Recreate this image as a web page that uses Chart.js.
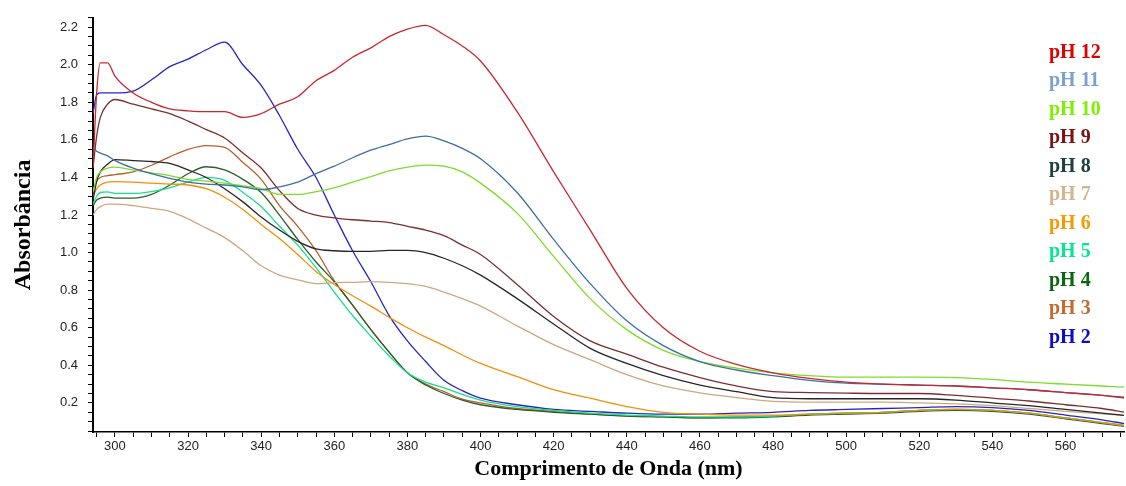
<!DOCTYPE html>
<html>
<head>
<meta charset="utf-8">
<script src="https://cdn.jsdelivr.net/npm/chart.js@4"></script>
<style>
  html, body { margin: 0; padding: 0; background: #fff; }
  #wrap { width: 1126px; height: 486px; }
</style>
</head>
<body>
<div id="wrap"><canvas id="spectra"></canvas></div>
<script>
const wavelengths = [294, 295, 296, 298, 300, 305, 310, 315, 320, 325, 330, 335, 340, 345, 350, 355, 360, 365, 370, 375, 380, 385, 390, 395, 400, 410, 420, 430, 440, 450, 460, 470, 480, 490, 500, 510, 520, 530, 540, 550, 560, 570, 576];

const ph12 = [1.45, 1.85, 2.01, 2.01, 1.94, 1.85, 1.80, 1.765, 1.755, 1.75, 1.75, 1.72, 1.74, 1.79, 1.83, 1.915, 1.97, 2.04, 2.09, 2.15, 2.19, 2.21, 2.16, 2.10, 2.02, 1.75, 1.43, 1.12, 0.81, 0.60, 0.475, 0.405, 0.36, 0.33, 0.31, 0.30, 0.295, 0.29, 0.28, 0.27, 0.255, 0.24, 0.23];
const ph11 = [1.56, 1.54, 1.53, 1.515, 1.49, 1.45, 1.42, 1.395, 1.375, 1.365, 1.36, 1.35, 1.335, 1.35, 1.375, 1.42, 1.46, 1.505, 1.545, 1.575, 1.605, 1.62, 1.595, 1.555, 1.50, 1.32, 1.07, 0.835, 0.637, 0.505, 0.42, 0.375, 0.345, 0.32, 0.305, 0.30, 0.295, 0.29, 0.28, 0.27, 0.255, 0.24, 0.225];
const ph10 = [1.32, 1.40, 1.43, 1.45, 1.455, 1.44, 1.425, 1.41, 1.39, 1.38, 1.37, 1.355, 1.34, 1.31, 1.31, 1.325, 1.345, 1.375, 1.405, 1.435, 1.455, 1.466, 1.46, 1.43, 1.37, 1.21, 0.98, 0.755, 0.59, 0.48, 0.42, 0.385, 0.36, 0.345, 0.337, 0.337, 0.337, 0.335, 0.325, 0.31, 0.30, 0.29, 0.284];
const ph9 = [1.45, 1.62, 1.72, 1.79, 1.815, 1.79, 1.765, 1.74, 1.70, 1.655, 1.61, 1.53, 1.45, 1.33, 1.235, 1.20, 1.185, 1.175, 1.168, 1.16, 1.14, 1.12, 1.09, 1.04, 0.99, 0.83, 0.66, 0.53, 0.46, 0.39, 0.335, 0.29, 0.26, 0.255, 0.252, 0.25, 0.25, 0.24, 0.225, 0.21, 0.19, 0.17, 0.151];
const ph8 = [1.28, 1.38, 1.43, 1.47, 1.495, 1.49, 1.485, 1.475, 1.44, 1.40, 1.34, 1.27, 1.19, 1.12, 1.06, 1.02, 1.01, 1.007, 1.007, 1.012, 1.012, 1.0, 0.97, 0.93, 0.88, 0.755, 0.62, 0.49, 0.41, 0.345, 0.295, 0.26, 0.228, 0.222, 0.222, 0.222, 0.222, 0.215, 0.20, 0.185, 0.165, 0.145, 0.134];
const ph7 = [1.20, 1.23, 1.245, 1.258, 1.258, 1.25, 1.235, 1.22, 1.18, 1.13, 1.08, 1.01, 0.93, 0.88, 0.855, 0.835, 0.84, 0.842, 0.845, 0.842, 0.835, 0.82, 0.79, 0.755, 0.715, 0.61, 0.51, 0.43, 0.35, 0.29, 0.253, 0.228, 0.208, 0.204, 0.204, 0.204, 0.20, 0.195, 0.185, 0.17, 0.155, 0.142, 0.134];
const ph6 = [1.30, 1.34, 1.36, 1.375, 1.378, 1.375, 1.37, 1.365, 1.36, 1.34, 1.295, 1.23, 1.15, 1.075, 0.99, 0.90, 0.83, 0.77, 0.715, 0.655, 0.60, 0.55, 0.505, 0.455, 0.41, 0.34, 0.27, 0.225, 0.18, 0.15, 0.14, 0.135, 0.135, 0.14, 0.145, 0.15, 0.16, 0.165, 0.16, 0.145, 0.12, 0.095, 0.08];
const ph5 = [1.26, 1.30, 1.32, 1.323, 1.315, 1.315, 1.325, 1.345, 1.375, 1.40, 1.385, 1.32, 1.245, 1.14, 1.04, 0.92, 0.79, 0.665, 0.555, 0.45, 0.36, 0.31, 0.28, 0.245, 0.215, 0.18, 0.16, 0.145, 0.135, 0.13, 0.125, 0.125, 0.13, 0.14, 0.145, 0.15, 0.16, 0.165, 0.16, 0.145, 0.12, 0.095, 0.078];
const ph4 = [1.25, 1.28, 1.29, 1.295, 1.29, 1.29, 1.31, 1.36, 1.42, 1.457, 1.44, 1.39, 1.32, 1.20, 1.07, 0.95, 0.845, 0.72, 0.59, 0.47, 0.36, 0.295, 0.25, 0.215, 0.19, 0.165, 0.15, 0.14, 0.13, 0.125, 0.12, 0.12, 0.125, 0.135, 0.14, 0.145, 0.155, 0.16, 0.155, 0.14, 0.115, 0.09, 0.075];
const ph3 = [1.33, 1.38, 1.40, 1.41, 1.415, 1.43, 1.465, 1.51, 1.55, 1.57, 1.56, 1.48, 1.39, 1.25, 1.14, 1.01, 0.85, 0.72, 0.59, 0.47, 0.36, 0.30, 0.26, 0.22, 0.20, 0.17, 0.155, 0.14, 0.13, 0.125, 0.12, 0.125, 0.13, 0.14, 0.145, 0.15, 0.16, 0.165, 0.16, 0.145, 0.12, 0.095, 0.08];
const ph2 = [1.74, 1.84, 1.85, 1.85, 1.85, 1.86, 1.92, 1.99, 2.03, 2.08, 2.12, 2.00, 1.89, 1.73, 1.55, 1.40, 1.20, 1.01, 0.845, 0.665, 0.53, 0.42, 0.32, 0.265, 0.225, 0.19, 0.165, 0.155, 0.145, 0.14, 0.14, 0.145, 0.15, 0.16, 0.165, 0.17, 0.175, 0.18, 0.175, 0.16, 0.135, 0.11, 0.09];

const seriesLabels = ['pH 12', 'pH 11', 'pH 10', 'pH 9', 'pH 8', 'pH 7', 'pH 6', 'pH 5', 'pH 4', 'pH 3', 'pH 2'];
const seriesValues = [ph12, ph11, ph10, ph9, ph8, ph7, ph6, ph5, ph4, ph3, ph2];

const lineColors = ['#c8282d', '#3e6fa3', '#7ddc2c', '#7b2f2f', '#262626', '#cfa77e', '#f0900a', '#14e08e', '#2b5e2b', '#b8602e', '#2727c0'];
const legendColors = ['#e00000', '#7aa2cc', '#7cf000', '#7a1414', '#1f4040', '#d4b48c', '#f59a00', '#00e890', '#0a6410', '#c06a30', '#0a0ad0'];

const datasets = seriesLabels.map((label, i) => ({
  label,
  data: wavelengths.map((w, j) => ({ x: w, y: seriesValues[i][j] })),
  borderColor: lineColors[i],
  borderWidth: 1.3,
  pointRadius: 0,
  cubicInterpolationMode: 'monotone',
  fill: false
}));

// coloured text legend in the upper right of the plot
const textLegend = {
  id: 'textLegend',
  afterDraw(chart) {
    const ctx = chart.ctx;
    const area = chart.chartArea;
    ctx.save();
    ctx.font = 'bold 20px "Liberation Serif"';
    ctx.textAlign = 'left';
    ctx.textBaseline = 'middle';
    chart.data.datasets.forEach((ds, i) => {
      ctx.fillStyle = legendColors[i];
      ctx.fillText(ds.label, area.right - 75, area.top + 35 + i * 28.5);
    });
    ctx.restore();
  }
};

const tickFont = { family: '"Liberation Sans", Arial', size: 13 };

new Chart(document.getElementById('spectra'), {
  type: 'line',
  data: { datasets },
  options: {
    responsive: true,
    maintainAspectRatio: false,
    animation: false,
    layout: { padding: { top: 15, right: 2, left: 0, bottom: 0 } },
    plugins: { legend: { display: false }, tooltip: { enabled: false } },
    scales: {
      x: {
        type: 'linear',
        min: 294,
        max: 576,
        border: { color: '#000', width: 1.5 },
        grid: { drawOnChartArea: false, tickLength: 5, tickColor: '#000', tickWidth: 1 },
        ticks: {
          stepSize: 5,
          includeBounds: false,
          autoSkip: false,
          maxRotation: 0,
          padding: 2,
          color: '#222',
          font: tickFont,
          callback: v => (v % 20 === 0 ? String(v) : '')
        },
        title: {
          display: true,
          text: 'Comprimento de Onda (nm)',
          color: '#000',
          font: { family: '"Liberation Serif"', size: 22, weight: 'bold' },
          padding: { top: 2, bottom: 3 }
        },
        afterFit: scale => { scale.height = 54; }
      },
      y: {
        min: 0.045,
        max: 2.25,
        border: { color: '#000', width: 2 },
        grid: { drawOnChartArea: false, tickLength: 5, tickColor: '#000', tickWidth: 1 },
        ticks: {
          stepSize: 0.05,
          includeBounds: false,
          autoSkip: false,
          padding: 10,
          color: '#222',
          font: tickFont,
          callback: v => {
            const k = Math.round(v * 100);
            return k % 20 === 0 ? (k / 100).toFixed(1) : '';
          }
        },
        title: {
          display: true,
          text: 'Absorbância',
          color: '#000',
          font: { family: '"Liberation Serif"', size: 24, weight: 'bold' },
          padding: { top: 9, bottom: 2 }
        },
        afterFit: scale => { scale.width = 93; }
      }
    }
  },
  plugins: [textLegend]
});
</script>
</body>
</html>
